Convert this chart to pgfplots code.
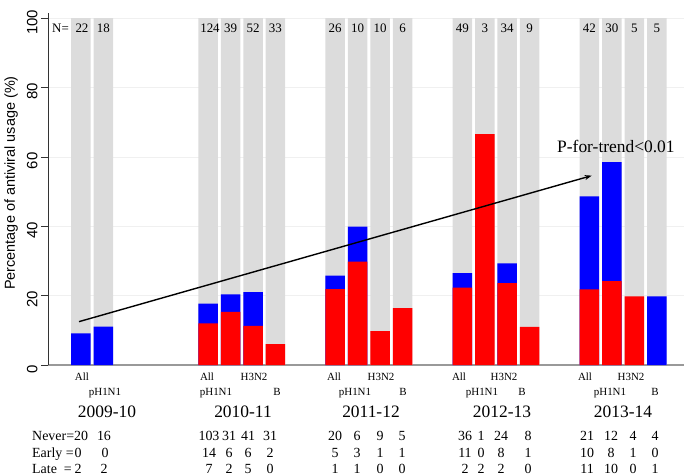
\documentclass[border=0pt]{standalone}
\usepackage{fontspec}
\setmainfont{Liberation Serif}
\setsansfont{Liberation Sans}
\usepackage{pgfplots}
\pgfplotsset{compat=1.18}
\usetikzlibrary{arrows.meta}
\definecolor{bgbar}{HTML}{DCDCDC}
\definecolor{myred}{HTML}{FF0000}
\definecolor{myblue}{HTML}{0000FF}
\newcommand{\fN}{\fontsize{13}{13}\selectfont}
\newcommand{\fS}{\fontsize{11}{11}\selectfont}
\newcommand{\fY}{\fontsize{17.5}{17.5}\selectfont}
\newcommand{\fC}{\fontsize{14}{14}\selectfont}
\newcommand{\lab}[4]{\node[font=#1, anchor=base, inner sep=0pt] at (axis cs:#2,#3) {#4};}
\newcommand{\labw}[4]{\node[font=#1, anchor=base west, inner sep=0pt] at (axis cs:#2,#3) {#4};}
\begin{document}
\begin{tikzpicture}
\begin{axis}[
  scale only axis, width=636bp, height=352bp,
  xmin=48, xmax=684, ymin=0, ymax=101.5,
  axis x line=bottom, axis y line=left,
  axis line style={-},
  x axis line style={draw=gray!80, line width=2.5bp},
  y axis line style={draw=black!80, line width=0.7bp},
  xtick=\empty,
  ytick={0,20,40,60,80,100},
  tick align=outside, major tick length=7bp,
  ytick style={black!80, line width=0.7bp},
  /pgf/number format/assume math mode=true,
  yticklabel style={font=\sffamily\fontsize{15}{15}\selectfont, rotate=90, anchor=south, xshift=-4bp},
  ymajorgrids, grid style={gray!12, line width=0.8bp},
  ylabel={Percentage of antiviral usage (\%)},
  ylabel style={font=\sffamily\fontsize{14.5}{15}\selectfont, at={(axis description cs:-0.058,0.517)}, anchor=center},
  clip=false,
  bar width=19.5,
]
% grey background bars (100%)
\addplot[ybar, bar shift=0pt, fill=bgbar, draw=none] coordinates {
 (81,100) (103.45,100)
 (208.1,100) (230.55,100) (253,100) (275.45,100)
 (335.2,100) (357.65,100) (380.1,100) (402.55,100)
 (462.3,100) (484.75,100) (507.2,100) (529.65,100)
 (589.4,100) (611.85,100) (634.3,100) (656.75,100)};
% total (early + late), blue part on top
\addplot[ybar, bar shift=0pt, fill=myblue, draw=none] coordinates {
 (81,9.1) (103.45,11.1)
 (208.1,17.7) (230.55,20.4) (253,21.0)
 (335.2,25.8) (357.65,39.9)
 (462.3,26.5) (507.2,29.3)
 (589.4,48.6) (611.85,58.5) (656.75,19.8)};
% red part
\addplot[ybar, bar shift=0pt, fill=myred, draw=none] coordinates {
 (208.1,12.0) (230.55,15.3) (253,11.3) (275.45,6.0)
 (335.2,21.9) (357.65,29.8) (380.1,9.8) (402.55,16.4)
 (462.3,22.3) (484.75,66.6) (507.2,23.6) (529.65,11.0)
 (589.4,21.8) (611.85,24.2) (634.3,19.8)};
% trend arrow
\addplot[black, line width=1.4bp, -{Stealth[length=7bp,width=5bp]}] coordinates {(79,12.5) (591.7,54.6)};
\labw{\fY}{557}{61.2}{P-for-trend<0.01}
% N row
\labw{\fN}{52}{95.8}{N=}
\lab{\fN}{82}{95.8}{22}\lab{\fN}{103.45}{95.8}{18}
\lab{\fN}{210}{95.8}{124}\lab{\fN}{230.55}{95.8}{39}\lab{\fN}{253}{95.8}{52}\lab{\fN}{275.45}{95.8}{33}
\lab{\fN}{335.2}{95.8}{26}\lab{\fN}{357.65}{95.8}{10}\lab{\fN}{380.1}{95.8}{10}\lab{\fN}{402.55}{95.8}{6}
\lab{\fN}{462.3}{95.8}{49}\lab{\fN}{484.75}{95.8}{3}\lab{\fN}{507.2}{95.8}{34}\lab{\fN}{529.65}{95.8}{9}
\lab{\fN}{589.4}{95.8}{42}\lab{\fN}{611.85}{95.8}{30}\lab{\fN}{634.3}{95.8}{5}\lab{\fN}{656.75}{95.8}{5}
% subtype labels
\lab{\fS}{82}{-4.33}{All}\lab{\fS}{105}{-8.66}{pH1N1}
\lab{\fS}{207}{-4.33}{All}\lab{\fS}{254}{-4.33}{H3N2}\lab{\fS}{216}{-8.66}{pH1N1}\lab{\fS}{277}{-8.66}{B}
\lab{\fS}{334}{-4.33}{All}\lab{\fS}{381}{-4.33}{H3N2}\lab{\fS}{355}{-8.66}{pH1N1}\lab{\fS}{403}{-8.66}{B}
\lab{\fS}{459}{-4.33}{All}\lab{\fS}{504}{-4.33}{H3N2}\lab{\fS}{482}{-8.66}{pH1N1}\lab{\fS}{522}{-8.66}{B}
\lab{\fS}{585}{-4.33}{All}\lab{\fS}{631}{-4.33}{H3N2}\lab{\fS}{610}{-8.66}{pH1N1}\lab{\fS}{655}{-8.66}{B}
% seasons
\lab{\fY}{107}{-15.0}{2009-10}\lab{\fY}{243}{-15.0}{2010-11}\lab{\fY}{371}{-15.0}{2011-12}
\lab{\fY}{502}{-15.0}{2012-13}\lab{\fY}{623}{-15.0}{2013-14}
% counts
\labw{\fC}{32}{-21.65}{Never=20}\lab{\fC}{104}{-21.65}{16}
\lab{\fC}{209}{-21.65}{103}\lab{\fC}{229}{-21.65}{31}\lab{\fC}{248}{-21.65}{41}\lab{\fC}{270}{-21.65}{31}
\lab{\fC}{335}{-21.65}{20}\lab{\fC}{357}{-21.65}{6}\lab{\fC}{380}{-21.65}{9}\lab{\fC}{402}{-21.65}{5}
\lab{\fC}{465}{-21.65}{36}\lab{\fC}{481}{-21.65}{1}\lab{\fC}{501}{-21.65}{24}\lab{\fC}{528}{-21.65}{8}
\lab{\fC}{587}{-21.65}{21}\lab{\fC}{611}{-21.65}{12}\lab{\fC}{633}{-21.65}{4}\lab{\fC}{655}{-21.65}{4}
\labw{\fC}{32}{-26.55}{Early =}\lab{\fC}{78}{-26.55}{0}\lab{\fC}{105}{-26.55}{0}
\lab{\fC}{209}{-26.55}{14}\lab{\fC}{229}{-26.55}{6}\lab{\fC}{248}{-26.55}{6}\lab{\fC}{270}{-26.55}{2}
\lab{\fC}{335}{-26.55}{5}\lab{\fC}{357}{-26.55}{3}\lab{\fC}{380}{-26.55}{1}\lab{\fC}{402}{-26.55}{1}
\lab{\fC}{465}{-26.55}{11}\lab{\fC}{481}{-26.55}{0}\lab{\fC}{501}{-26.55}{8}\lab{\fC}{528}{-26.55}{1}
\lab{\fC}{587}{-26.55}{10}\lab{\fC}{611}{-26.55}{8}\lab{\fC}{633}{-26.55}{1}\lab{\fC}{655}{-26.55}{0}
\labw{\fC}{32}{-31.17}{Late\ \ =}\lab{\fC}{78}{-31.17}{2}\lab{\fC}{104}{-31.17}{2}
\lab{\fC}{209}{-31.17}{7}\lab{\fC}{229}{-31.17}{2}\lab{\fC}{248}{-31.17}{5}\lab{\fC}{270}{-31.17}{0}
\lab{\fC}{335}{-31.17}{1}\lab{\fC}{357}{-31.17}{1}\lab{\fC}{380}{-31.17}{0}\lab{\fC}{402}{-31.17}{0}
\lab{\fC}{465}{-31.17}{2}\lab{\fC}{481}{-31.17}{2}\lab{\fC}{501}{-31.17}{2}\lab{\fC}{528}{-31.17}{0}
\lab{\fC}{587}{-31.17}{11}\lab{\fC}{611}{-31.17}{10}\lab{\fC}{633}{-31.17}{0}\lab{\fC}{655}{-31.17}{1}
\coordinate (SW) at (axis cs:48,0);
\coordinate (NE) at (axis cs:684,101.5);
\end{axis}
\pgfresetboundingbox
\path[use as bounding box] ([shift={(-48bp,-111bp)}]SW) rectangle ([shift={(9bp,13bp)}]NE);
\end{tikzpicture}
\end{document}
